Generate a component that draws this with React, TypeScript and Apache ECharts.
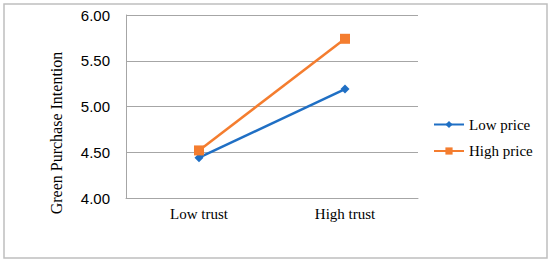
import React, { useEffect, useRef } from "react";
import * as echarts from "echarts";

const categories = ["Low trust", "High trust"];
const lowPrice = [4.44, 5.19];
const highPrice = [4.52, 5.74];
const yTicks = { min: 4, max: 6, interval: 0.5 };
const yTitle = "Green Purchase Intention";

export default function App() {
  const ref = useRef<HTMLDivElement>(null);
  useEffect(() => {
    document.body.style.margin = "0";
    const chart = echarts.init(ref.current!, null, { renderer: "svg" });
    const serif = "'Liberation Serif', 'Times New Roman', serif";
    const sans = "'Liberation Sans', Arial, sans-serif";
    chart.setOption({
      animation: false,
      backgroundColor: "#ffffff",
      graphic: [
        {
          type: "rect",
          shape: { x: 4, y: 4, width: 543, height: 254 },
          style: { fill: "none", stroke: "#bfbfbf", lineWidth: 1.5 },
          silent: true,
        },
        {
          type: "text",
          x: 56,
          y: 133,
          rotation: Math.PI / 2,
          style: {
            text: yTitle,
            fontFamily: serif,
            fontSize: 16,
            fill: "#000",
            align: "center",
            verticalAlign: "middle",
          },
          silent: true,
        },
      ],
      grid: { left: 126, right: 132, top: 15, bottom: 66 },
      legend: {
        orient: "vertical",
        left: 433,
        top: 117,
        padding: 0,
        itemWidth: 30,
        itemHeight: 9,
        itemGap: 11.5,
        data: ["Low price", "High price"],
        textStyle: { fontFamily: serif, fontSize: 15, color: "#000" },
      },
      xAxis: {
        type: "category",
        data: categories,
        boundaryGap: true,
        axisTick: { show: false },
        axisLine: { show: true, lineStyle: { color: "#a6a6a6", width: 1 } },
        axisLabel: { fontFamily: serif, fontSize: 15, color: "#000", margin: 8 },
      },
      yAxis: {
        type: "value",
        min: yTicks.min,
        max: yTicks.max,
        interval: yTicks.interval,
        axisLine: { show: true, lineStyle: { color: "#a6a6a6", width: 1 } },
        axisTick: { show: false },
        axisLabel: {
          fontFamily: sans,
          fontSize: 15,
          color: "#000",
          margin: 16,
          formatter: (v: number) => v.toFixed(2),
        },
        splitLine: { show: true, lineStyle: { color: "#a6a6a6", width: 1 } },
      },
      series: [
        {
          name: "Low price",
          type: "line",
          data: lowPrice,
          color: "#1f6fc4",
          symbol: "diamond",
          symbolSize: 9,
          lineStyle: { width: 2.5 },
        },
        {
          name: "High price",
          type: "line",
          data: highPrice,
          color: "#f47d2f",
          symbol: "rect",
          symbolSize: 10,
          lineStyle: { width: 2.5 },
        },
      ],
    });
    return () => chart.dispose();
  }, []);
  return (
    <div
      ref={ref}
      style={{ position: "fixed", left: 0, top: 0, width: 550, height: 264 }}
    />
  );
}
